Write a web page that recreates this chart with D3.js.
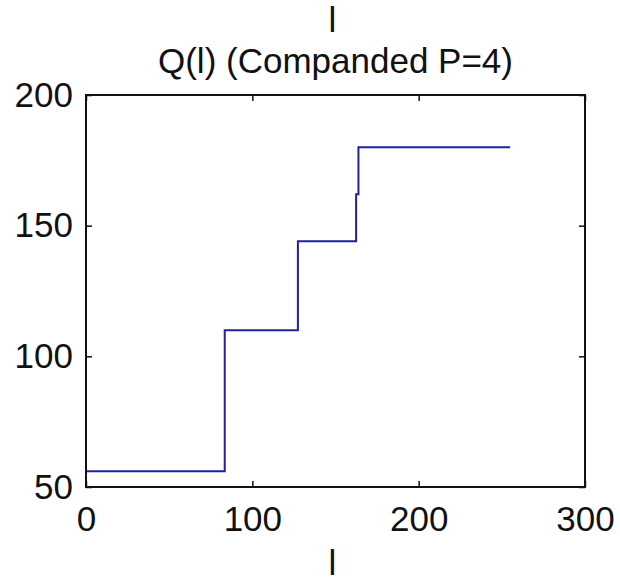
<!DOCTYPE html>
<html>
<head>
<meta charset="utf-8">
<script src="https://cdn.jsdelivr.net/npm/d3@7"></script>
<style>
  body { margin: 0; background: #fff; }
  text { font-family: "Liberation Sans", Arial, sans-serif; fill: #111; }
</style>
</head>
<body>
<div id="chart"></div>
<script>
// step data: Q(l) levels and the l where each level starts
var stepL = [0, 83.4, 127.4, 162.4, 163.8, 255];
var stepQ = [56, 110, 144, 162, 180, 180];
var xTicks = [0, 100, 200, 300];
var yTicks = [50, 100, 150, 200];

var width = 620, height = 581;
var margin = {top: 95, right: 35, bottom: 94, left: 86};

var svg = d3.select("#chart")
  .append("svg")
    .attr("width", width)
    .attr("height", height);

var x = d3.scaleLinear()
  .domain([0, 300])
  .range([margin.left, width - margin.right]);

var y = d3.scaleLinear()
  .domain([50, 200])
  .range([height - margin.bottom, margin.top]);

var fontSize = 35;

// bottom axis with labels, ticks pointing inward
svg.append("g")
  .attr("transform", "translate(0," + y(50) + ")")
  .call(d3.axisBottom(x).tickValues(xTicks).tickSizeInner(-6).tickSizeOuter(0).tickPadding(19))
  .call(function(g) { g.select(".domain").remove(); });

// left axis with labels
svg.append("g")
  .attr("transform", "translate(" + x(0) + ",0)")
  .call(d3.axisLeft(y).tickValues(yTicks).tickSizeInner(-6).tickSizeOuter(0).tickPadding(13))
  .call(function(g) { g.select(".domain").remove(); });

// top and right axes: ticks only
svg.append("g")
  .attr("transform", "translate(0," + y(200) + ")")
  .call(d3.axisTop(x).tickValues(xTicks).tickSizeInner(-6).tickSizeOuter(0).tickFormat(""))
  .call(function(g) { g.select(".domain").remove(); });

svg.append("g")
  .attr("transform", "translate(" + x(300) + ",0)")
  .call(d3.axisRight(y).tickValues(yTicks).tickSizeInner(-6).tickSizeOuter(0).tickFormat(""))
  .call(function(g) { g.select(".domain").remove(); });

svg.selectAll(".tick line").attr("stroke", "#111").attr("stroke-width", 1.5);
svg.selectAll(".tick text")
  .style("font-size", fontSize + "px")
  .style("font-family", "'Liberation Sans', Arial, sans-serif")
  .attr("fill", "#111");

// the step line
svg.append("path")
  .datum(d3.range(stepL.length))
    .attr("fill", "none")
    .attr("stroke", "#2020a0")
    .attr("stroke-width", 2)
    .attr("d", d3.line()
      .curve(d3.curveStepAfter)
      .x(function(i) { return x(stepL[i]); })
      .y(function(i) { return y(stepQ[i]); })
    );

// axes box
svg.append("rect")
  .attr("x", x(0))
  .attr("y", y(200))
  .attr("width", x(300) - x(0))
  .attr("height", y(50) - y(200))
  .attr("fill", "none")
  .attr("stroke", "#111")
  .attr("stroke-width", 2);

var cx = (x(0) + x(300)) / 2;

// stray label above the title
svg.append("text")
  .attr("x", cx - 3)
  .attr("y", 32)
  .attr("text-anchor", "middle")
  .style("font-size", fontSize + "px")
  .text("l");

// title
svg.append("text")
  .attr("x", cx)
  .attr("y", 73)
  .attr("text-anchor", "middle")
  .style("font-size", fontSize + "px")
  .text("Q(l) (Companded P=4)");

// x label
svg.append("text")
  .attr("x", cx - 3)
  .attr("y", 575)
  .attr("text-anchor", "middle")
  .style("font-size", fontSize + "px")
  .text("l");
</script>
</body>
</html>
